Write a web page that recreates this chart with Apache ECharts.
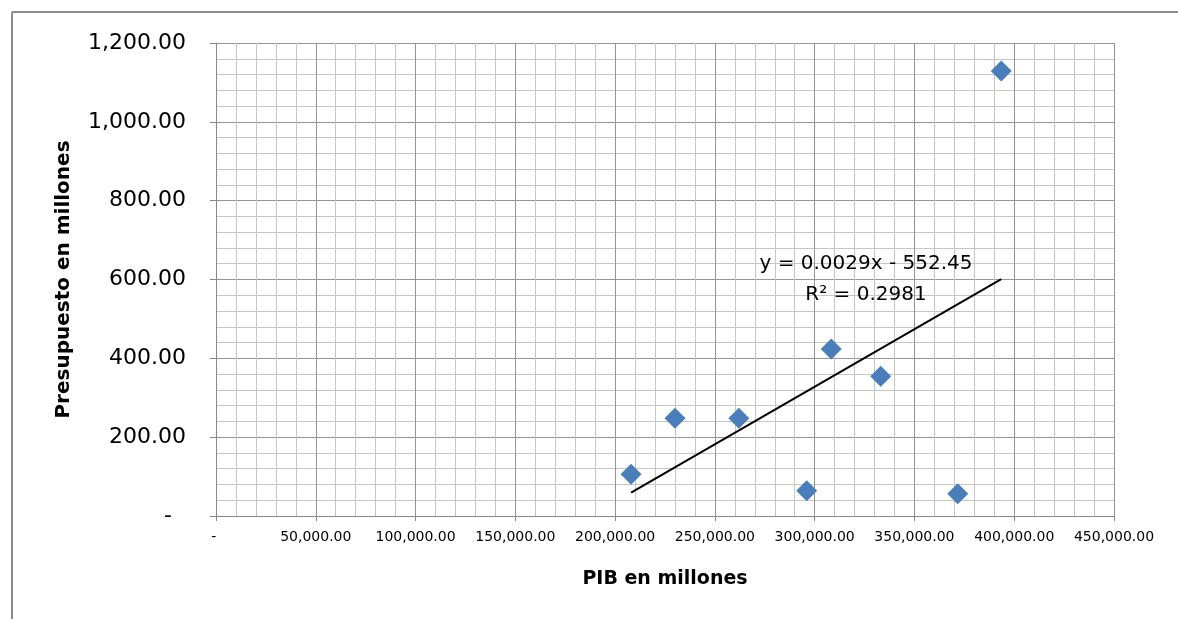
<!DOCTYPE html>
<html>
<head>
<meta charset="utf-8">
<script src="https://cdn.jsdelivr.net/npm/echarts@6/dist/echarts.min.js"></script>
<style>
  html, body { margin: 0; padding: 0; background: #fff; }
  #chart_con { width: 1178px; height: 619px; }
</style>
</head>
<body>
<div id="chart_con"></div>
<script>
// PIB vs presupuesto (millones)
const pib = [208000, 230000, 262000, 296000, 308300, 333100, 371700, 393500];
const presupuesto = [105.8, 247.9, 248, 64.2, 423.7, 354.4, 56.6, 1129];
const xTicks = [0, 450000, 50000];
const yTicks = [0, 1200, 200];
const ecuacion = "y = 0.0029x - 552.45";
const r2 = "R² = 0.2981";

// recta de minimos cuadrados
const n = pib.length;
let mx = 0, my = 0;
for (let i = 0; i < n; i++) { mx += pib[i] / n; my += presupuesto[i] / n; }
let sxy = 0, sxx = 0;
for (let i = 0; i < n; i++) {
  sxy += (pib[i] - mx) * (presupuesto[i] - my);
  sxx += (pib[i] - mx) * (pib[i] - mx);
}
const slope = sxy / sxx;
const icpt = my - slope * mx;
const xMin = Math.min.apply(null, pib);
const xMax = Math.max.apply(null, pib);
const trend = [[xMin, icpt + slope * xMin], [xMax, icpt + slope * xMax]];

const points = pib.map((x, i) => [x, presupuesto[i]]);

function fmt(v) {
  return v.toLocaleString("en-US", { minimumFractionDigits: 2, maximumFractionDigits: 2 });
}

const font = "'DejaVu Sans', sans-serif";

const chart = echarts.init(document.getElementById("chart_con"));
const option = {
  backgroundColor: "#fff",
  animation: false,
  grid: { left: 216, right: 64, top: 43, bottom: 103, containLabel: false },
  xAxis: {
    type: "value",
    min: xTicks[0],
    max: xTicks[1],
    interval: xTicks[2],
    name: "PIB en millones",
    nameLocation: "middle",
    nameGap: 54,
    nameTextStyle: { fontFamily: font, fontSize: 19, fontWeight: "bold", color: "#000" },
    axisLine: { show: true, lineStyle: { color: "#888", width: 1 } },
    axisTick: { show: true, length: 5, lineStyle: { color: "#888" } },
    minorTick: { show: false, splitNumber: 5 },
    axisLabel: {
      fontFamily: font, fontSize: 14, color: "#000", margin: 14,
      formatter: v => v === 0 ? "- " : fmt(v)
    },
    splitLine: { show: true, lineStyle: { color: "#959595", width: 1 } },
    minorSplitLine: { show: true, lineStyle: { color: "#c6c6c6", width: 1 } }
  },
  yAxis: {
    type: "value",
    min: yTicks[0],
    max: yTicks[1],
    interval: yTicks[2],
    name: "Presupuesto en millones",
    nameLocation: "middle",
    nameRotate: 90,
    nameGap: 142,
    nameTextStyle: { fontFamily: font, fontSize: 20, fontWeight: "bold", color: "#000" },
    axisLine: { show: true, lineStyle: { color: "#888", width: 1 } },
    axisTick: { show: true, length: 6, lineStyle: { color: "#888" } },
    minorTick: { show: false, splitNumber: 5 },
    axisLabel: {
      fontFamily: font, fontSize: 22, color: "#000", margin: 30,
      formatter: v => v === 0 ? "-  " : fmt(v)
    },
    splitLine: { show: true, lineStyle: { color: "#959595", width: 1 } },
    minorSplitLine: { show: true, lineStyle: { color: "#c6c6c6", width: 1 } }
  },
  series: [
    {
      name: "tendencia",
      type: "line",
      data: trend,
      showSymbol: false,
      lineStyle: { color: "#000", width: 2 },
      z: 3
    },
    {
      name: "presupuesto",
      type: "scatter",
      data: points,
      symbol: "diamond",
      symbolSize: 21,
      itemStyle: { color: "#4a7ebb", opacity: 1 },
      z: 4
    }
  ],
  graphic: [
    { type: "line", z: 100, shape: { x1: 12, y1: 12, x2: 1178, y2: 12 }, style: { stroke: "#8c8c8c", lineWidth: 2 } },
    { type: "line", z: 100, shape: { x1: 12, y1: 12, x2: 12, y2: 619 }, style: { stroke: "#8c8c8c", lineWidth: 2 } },
    {
      type: "text", x: 866, y: 264, z: 100,
      style: { text: ecuacion, font: "20px " + font, fill: "#000", align: "center", verticalAlign: "middle" }
    },
    {
      type: "text", x: 866, y: 295, z: 100,
      style: { text: r2, font: "20px " + font, fill: "#000", align: "center", verticalAlign: "middle" }
    }
  ]
};
chart.setOption(option);
window.addEventListener("resize", function () {
  chart.resize();
});
</script>
</body>
</html>
